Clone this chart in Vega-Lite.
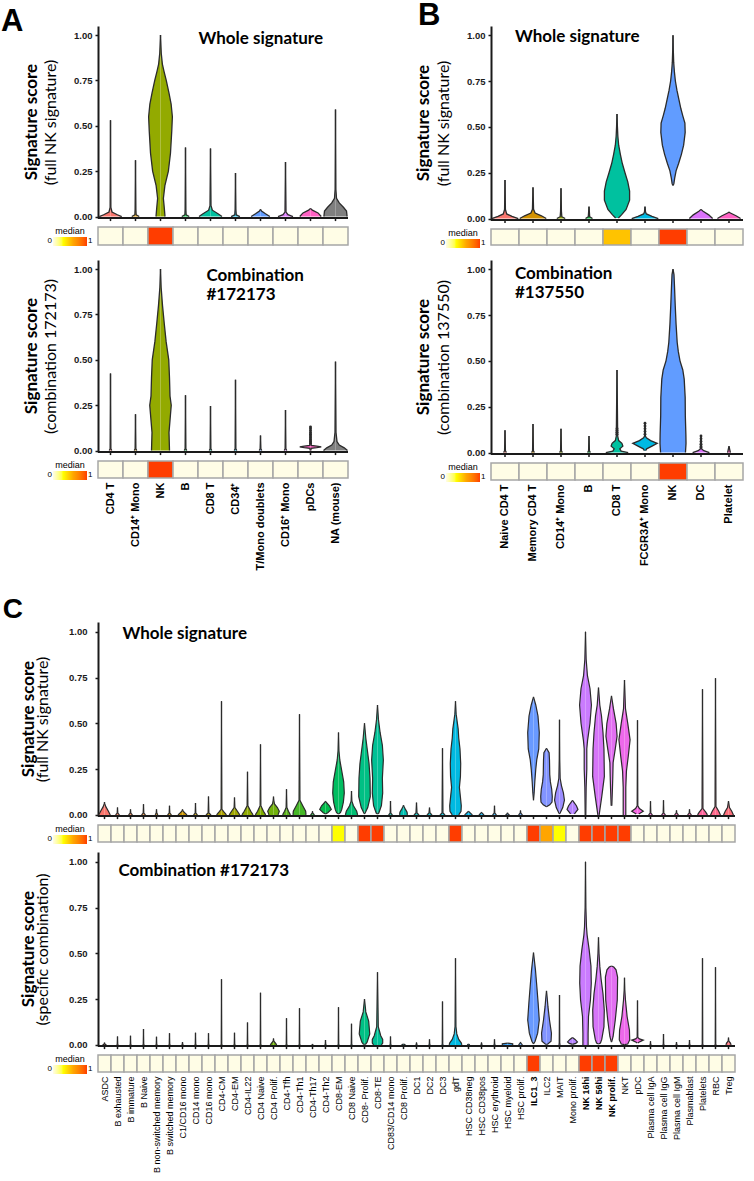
{
"$schema": "https://vega.github.io/schema/vega-lite/v6.json",
"background": "white",
"padding": {"left": 0, "top": 0, "right": 0, "bottom": 0},
"config": {"view": {"stroke": null}, "font": "Liberation Sans"},
"datasets": {
"sA": [{"c":"CD4 T","m1":0,"m2":0},{"c":"CD14⁺ Mono","m1":0,"m2":0},{"c":"NK","m1":1,"m2":1},{"c":"B","m1":0,"m2":0},{"c":"CD8 T","m1":0,"m2":0},{"c":"CD34⁺","m1":0,"m2":0},{"c":"T/Mono doublets","m1":0,"m2":0},{"c":"CD16⁺ Mono","m1":0,"m2":0},{"c":"pDCs","m1":0,"m2":0},{"c":"NA (mouse)","m1":0,"m2":0}],
"sB": [{"c":"Naive CD4 T","m1":0,"m2":0},{"c":"Memory CD4 T","m1":0,"m2":0},{"c":"CD14⁺ Mono","m1":0,"m2":0},{"c":"B","m1":0,"m2":0},{"c":"CD8 T","m1":0.5,"m2":0},{"c":"FCGR3A⁺ Mono","m1":0,"m2":0},{"c":"NK","m1":1,"m2":1},{"c":"DC","m1":0,"m2":0},{"c":"Platelet","m1":0,"m2":0}],
"catsC": [{"c":"ASDC","i":0,"m1":0,"m2":0},{"c":"B exhausted","i":1,"m1":0,"m2":0},{"c":"B immature","i":2,"m1":0,"m2":0},{"c":"B Naive","i":3,"m1":0,"m2":0},{"c":"B non-switched memory","i":4,"m1":0,"m2":0},{"c":"B switched memory","i":5,"m1":0,"m2":0},{"c":"C1/CD16 mono","i":6,"m1":0,"m2":0},{"c":"CD14 mono","i":7,"m1":0,"m2":0},{"c":"CD16 mono","i":8,"m1":0,"m2":0},{"c":"CD4-CM","i":9,"m1":0,"m2":0},{"c":"CD4-EM","i":10,"m1":0,"m2":0},{"c":"CD4-IL22","i":11,"m1":0,"m2":0},{"c":"CD4 Naive","i":12,"m1":0,"m2":0},{"c":"CD4 Prolif.","i":13,"m1":0,"m2":0},{"c":"CD4-Tfh","i":14,"m1":0,"m2":0},{"c":"CD4-Th1","i":15,"m1":0,"m2":0},{"c":"CD4-Th17","i":16,"m1":0,"m2":0},{"c":"CD4-Th2","i":17,"m1":0,"m2":0},{"c":"CD8-EM","i":18,"m1":0.3,"m2":0},{"c":"CD8 Naive","i":19,"m1":0,"m2":0},{"c":"CD8- Prolif.","i":20,"m1":1,"m2":0},{"c":"CD8-TE","i":21,"m1":1,"m2":0},{"c":"CD83/CD14 mono","i":22,"m1":0,"m2":0},{"c":"CD8 Prolif.","i":23,"m1":0,"m2":0},{"c":"DC1","i":24,"m1":0,"m2":0},{"c":"DC2","i":25,"m1":0,"m2":0},{"c":"DC3","i":26,"m1":0,"m2":0},{"c":"gdT","i":27,"m1":1,"m2":0},{"c":"HSC CD38neg","i":28,"m1":0,"m2":0},{"c":"HSC CD38pos","i":29,"m1":0,"m2":0},{"c":"HSC erythroid","i":30,"m1":0,"m2":0},{"c":"HSC myeloid","i":31,"m1":0,"m2":0},{"c":"HSC prolif.","i":32,"m1":0,"m2":0},{"c":"ILC1_3","i":33,"m1":1,"m2":1},{"c":"ILC2","i":34,"m1":0.6,"m2":0},{"c":"MAIT","i":35,"m1":0.3,"m2":0},{"c":"Mono prolif.","i":36,"m1":0,"m2":0},{"c":"NK 16hi","i":37,"m1":1,"m2":1},{"c":"NK 56hi","i":38,"m1":1,"m2":1},{"c":"NK prolif.","i":39,"m1":1,"m2":1},{"c":"NKT","i":40,"m1":1,"m2":0},{"c":"pDC","i":41,"m1":0,"m2":0},{"c":"Plasma cell IgA","i":42,"m1":0,"m2":0},{"c":"Plasma cell IgG","i":43,"m1":0,"m2":0},{"c":"Plasma cell IgM","i":44,"m1":0,"m2":0},{"c":"Plasmablast","i":45,"m1":0,"m2":0},{"c":"Platelets","i":46,"m1":0,"m2":0},{"c":"RBC","i":47,"m1":0,"m2":0},{"c":"Treg","i":48,"m1":0,"m2":0}],
"vA1": [
{"c":"CD4 T","y":0,"w":0.9},{"c":"CD4 T","y":0.01,"w":0.55},{"c":"CD4 T","y":0.025,"w":0.12},{"c":"CD4 T","y":0.05,"w":0.03},{"c":"CD4 T","y":0.53,"w":0},
{"c":"CD14⁺ Mono","y":0,"w":0.3},{"c":"CD14⁺ Mono","y":0.01,"w":0.05},{"c":"CD14⁺ Mono","y":0.04,"w":0.03},{"c":"CD14⁺ Mono","y":0.31,"w":0},
{"c":"NK","y":0,"w":0.36},{"c":"NK","y":0.05,"w":0.3},{"c":"NK","y":0.1,"w":0.23},{"c":"NK","y":0.17,"w":0.35},{"c":"NK","y":0.25,"w":0.63},{"c":"NK","y":0.35,"w":0.8},{"c":"NK","y":0.47,"w":0.9},{"c":"NK","y":0.55,"w":0.95},{"c":"NK","y":0.62,"w":0.85},{"c":"NK","y":0.68,"w":0.68},{"c":"NK","y":0.75,"w":0.46},{"c":"NK","y":0.8,"w":0.28},{"c":"NK","y":0.84,"w":0.15},{"c":"NK","y":0.9,"w":0.06},{"c":"NK","y":1,"w":0},
{"c":"B","y":0,"w":0.3},{"c":"B","y":0.01,"w":0.05},{"c":"B","y":0.04,"w":0.03},{"c":"B","y":0.38,"w":0},
{"c":"CD8 T","y":0,"w":0.92},{"c":"CD8 T","y":0.015,"w":0.6},{"c":"CD8 T","y":0.035,"w":0.15},{"c":"CD8 T","y":0.06,"w":0.04},{"c":"CD8 T","y":0.375,"w":0},
{"c":"CD34⁺","y":0,"w":0.35},{"c":"CD34⁺","y":0.01,"w":0.06},{"c":"CD34⁺","y":0.04,"w":0.03},{"c":"CD34⁺","y":0.24,"w":0},
{"c":"T/Mono doublets","y":0,"w":0.75},{"c":"T/Mono doublets","y":0.015,"w":0.4},{"c":"T/Mono doublets","y":0.03,"w":0.08},{"c":"T/Mono doublets","y":0.04,"w":0},
{"c":"CD16⁺ Mono","y":0,"w":0.6},{"c":"CD16⁺ Mono","y":0.01,"w":0.2},{"c":"CD16⁺ Mono","y":0.025,"w":0.04},{"c":"CD16⁺ Mono","y":0.3,"w":0},
{"c":"pDCs","y":0,"w":0.86},{"c":"pDCs","y":0.02,"w":0.6},{"c":"pDCs","y":0.035,"w":0.15},{"c":"pDCs","y":0.045,"w":0},
{"c":"NA (mouse)","y":0,"w":0.93},{"c":"NA (mouse)","y":0.03,"w":0.88},{"c":"NA (mouse)","y":0.05,"w":0.65},{"c":"NA (mouse)","y":0.075,"w":0.3},{"c":"NA (mouse)","y":0.1,"w":0.08},{"c":"NA (mouse)","y":0.15,"w":0.03},{"c":"NA (mouse)","y":0.59,"w":0},
{"c":"CD8 T","kind":"label","t":"Whole signature"},
{"c":"CD4 T","kind":"ytitle","t":"Signature score"}
],
"vA2": [
{"c":"CD4 T","y":0,"w":0.1},{"c":"CD4 T","y":0.01,"w":0.03},{"c":"CD4 T","y":0.425,"w":0},
{"c":"CD14⁺ Mono","y":0,"w":0.1},{"c":"CD14⁺ Mono","y":0.01,"w":0.03},{"c":"CD14⁺ Mono","y":0.2,"w":0},
{"c":"NK","y":0,"w":0.72},{"c":"NK","y":0.1,"w":0.68},{"c":"NK","y":0.2,"w":0.8},{"c":"NK","y":0.25,"w":0.86},{"c":"NK","y":0.3,"w":0.76},{"c":"NK","y":0.4,"w":0.72},{"c":"NK","y":0.5,"w":0.66},{"c":"NK","y":0.6,"w":0.45},{"c":"NK","y":0.7,"w":0.3},{"c":"NK","y":0.8,"w":0.16},{"c":"NK","y":0.9,"w":0.05},{"c":"NK","y":1,"w":0},
{"c":"B","y":0,"w":0.1},{"c":"B","y":0.01,"w":0.03},{"c":"B","y":0.305,"w":0},
{"c":"CD8 T","y":0,"w":0.1},{"c":"CD8 T","y":0.01,"w":0.03},{"c":"CD8 T","y":0.245,"w":0},
{"c":"CD34⁺","y":0,"w":0.1},{"c":"CD34⁺","y":0.01,"w":0.03},{"c":"CD34⁺","y":0.39,"w":0},
{"c":"T/Mono doublets","y":0,"w":0.1},{"c":"T/Mono doublets","y":0.01,"w":0.03},{"c":"T/Mono doublets","y":0.083,"w":0},
{"c":"CD16⁺ Mono","y":0,"w":0.1},{"c":"CD16⁺ Mono","y":0.01,"w":0.03},{"c":"CD16⁺ Mono","y":0.223,"w":0},
{"c":"pDCs","y":0,"w":0.03},{"c":"pDCs","y":0.012,"w":0.05},{"c":"pDCs","y":0.016,"w":0.5},{"c":"pDCs","y":0.02,"w":0.86},{"c":"pDCs","y":0.024,"w":0.5},{"c":"pDCs","y":0.028,"w":0.06},{"c":"pDCs","y":0.135,"w":0},
{"c":"NA (mouse)","y":0,"w":0.96},{"c":"NA (mouse)","y":0.015,"w":0.7},{"c":"NA (mouse)","y":0.03,"w":0.3},{"c":"NA (mouse)","y":0.05,"w":0.12},{"c":"NA (mouse)","y":0.1,"w":0.04},{"c":"NA (mouse)","y":0.49,"w":0},
{"c":"pDCs","kind":"dot","y":0.04},{"c":"pDCs","kind":"dot","y":0.05},{"c":"pDCs","kind":"dot","y":0.06},{"c":"pDCs","kind":"dot","y":0.07},{"c":"pDCs","kind":"dot","y":0.08},{"c":"pDCs","kind":"dot","y":0.09},{"c":"pDCs","kind":"dot","y":0.1},{"c":"pDCs","kind":"dot","y":0.11},{"c":"pDCs","kind":"dot","y":0.12},{"c":"pDCs","kind":"dot","y":0.13},
{"c":"CD8 T","kind":"label","t":["Combination","#172173"]},
{"c":"CD4 T","kind":"ytitle","t":"Signature score"}
],
"vB1": [
{"c":"Naive CD4 T","y":0,"w":0.95},{"c":"Naive CD4 T","y":0.012,"w":0.5},{"c":"Naive CD4 T","y":0.025,"w":0.12},{"c":"Naive CD4 T","y":0.05,"w":0.03},{"c":"Naive CD4 T","y":0.21,"w":0},
{"c":"Memory CD4 T","y":0,"w":0.95},{"c":"Memory CD4 T","y":0.015,"w":0.6},{"c":"Memory CD4 T","y":0.03,"w":0.15},{"c":"Memory CD4 T","y":0.05,"w":0.04},{"c":"Memory CD4 T","y":0.17,"w":0},
{"c":"CD14⁺ Mono","y":0,"w":0.3},{"c":"CD14⁺ Mono","y":0.01,"w":0.06},{"c":"CD14⁺ Mono","y":0.04,"w":0.03},{"c":"CD14⁺ Mono","y":0.165,"w":0},
{"c":"B","y":0,"w":0.25},{"c":"B","y":0.01,"w":0.05},{"c":"B","y":0.065,"w":0},
{"c":"CD8 T","y":0.003,"w":0.1},{"c":"CD8 T","y":0.02,"w":0.32},{"c":"CD8 T","y":0.05,"w":0.65},{"c":"CD8 T","y":0.1,"w":0.9},{"c":"CD8 T","y":0.15,"w":0.9},{"c":"CD8 T","y":0.2,"w":0.77},{"c":"CD8 T","y":0.25,"w":0.57},{"c":"CD8 T","y":0.3,"w":0.38},{"c":"CD8 T","y":0.35,"w":0.24},{"c":"CD8 T","y":0.4,"w":0.12},{"c":"CD8 T","y":0.45,"w":0.06},{"c":"CD8 T","y":0.5,"w":0.03},{"c":"CD8 T","y":0.57,"w":0},
{"c":"FCGR3A⁺ Mono","y":0,"w":0.95},{"c":"FCGR3A⁺ Mono","y":0.012,"w":0.5},{"c":"FCGR3A⁺ Mono","y":0.025,"w":0.1},{"c":"FCGR3A⁺ Mono","y":0.035,"w":0.04},{"c":"FCGR3A⁺ Mono","y":0.065,"w":0},
{"c":"NK","y":0.18,"w":0},{"c":"NK","y":0.19,"w":0.06},{"c":"NK","y":0.22,"w":0.12},{"c":"NK","y":0.26,"w":0.22},{"c":"NK","y":0.3,"w":0.4},{"c":"NK","y":0.35,"w":0.6},{"c":"NK","y":0.4,"w":0.76},{"c":"NK","y":0.47,"w":0.87},{"c":"NK","y":0.52,"w":0.85},{"c":"NK","y":0.56,"w":0.7},{"c":"NK","y":0.6,"w":0.56},{"c":"NK","y":0.65,"w":0.42},{"c":"NK","y":0.7,"w":0.28},{"c":"NK","y":0.75,"w":0.17},{"c":"NK","y":0.8,"w":0.1},{"c":"NK","y":0.85,"w":0.05},{"c":"NK","y":0.92,"w":0.02},{"c":"NK","y":1,"w":0},
{"c":"DC","y":0,"w":0.83},{"c":"DC","y":0.02,"w":0.55},{"c":"DC","y":0.04,"w":0.15},{"c":"DC","y":0.05,"w":0},
{"c":"Platelet","y":0,"w":0.83},{"c":"Platelet","y":0.015,"w":0.5},{"c":"Platelet","y":0.03,"w":0.1},{"c":"Platelet","y":0.035,"w":0},
{"c":"Naive CD4 T","kind":"label","t":"Whole signature"},
{"c":"Naive CD4 T","kind":"ytitle","t":"Signature score"}
],
"vB2": [
{"c":"Naive CD4 T","y":0,"w":0.1},{"c":"Naive CD4 T","y":0.01,"w":0.03},{"c":"Naive CD4 T","y":0.122,"w":0},
{"c":"Memory CD4 T","y":0,"w":0.1},{"c":"Memory CD4 T","y":0.01,"w":0.03},{"c":"Memory CD4 T","y":0.155,"w":0},
{"c":"CD14⁺ Mono","y":0,"w":0.1},{"c":"CD14⁺ Mono","y":0.01,"w":0.03},{"c":"CD14⁺ Mono","y":0.13,"w":0},
{"c":"B","y":0,"w":0.1},{"c":"B","y":0.01,"w":0.03},{"c":"B","y":0.09,"w":0},
{"c":"CD8 T","y":0,"w":0.8},{"c":"CD8 T","y":0.008,"w":0.3},{"c":"CD8 T","y":0.02,"w":0.2},{"c":"CD8 T","y":0.035,"w":0.42},{"c":"CD8 T","y":0.05,"w":0.35},{"c":"CD8 T","y":0.065,"w":0.12},{"c":"CD8 T","y":0.09,"w":0.05},{"c":"CD8 T","y":0.45,"w":0},
{"c":"FCGR3A⁺ Mono","y":0.01,"w":0.04},{"c":"FCGR3A⁺ Mono","y":0.02,"w":0.12},{"c":"FCGR3A⁺ Mono","y":0.035,"w":0.5},{"c":"FCGR3A⁺ Mono","y":0.05,"w":0.87},{"c":"FCGR3A⁺ Mono","y":0.065,"w":0.4},{"c":"FCGR3A⁺ Mono","y":0.08,"w":0.1},{"c":"FCGR3A⁺ Mono","y":0.09,"w":0.03},{"c":"FCGR3A⁺ Mono","y":0.165,"w":0},
{"c":"NK","y":0,"w":0.89},{"c":"NK","y":0.05,"w":0.93},{"c":"NK","y":0.1,"w":0.92},{"c":"NK","y":0.2,"w":0.88},{"c":"NK","y":0.3,"w":0.87},{"c":"NK","y":0.4,"w":0.8},{"c":"NK","y":0.45,"w":0.7},{"c":"NK","y":0.5,"w":0.5},{"c":"NK","y":0.55,"w":0.38},{"c":"NK","y":0.6,"w":0.3},{"c":"NK","y":0.7,"w":0.22},{"c":"NK","y":0.8,"w":0.16},{"c":"NK","y":0.9,"w":0.11},{"c":"NK","y":0.97,"w":0.07},{"c":"NK","y":1,"w":0},
{"c":"DC","y":0,"w":0.6},{"c":"DC","y":0.01,"w":0.2},{"c":"DC","y":0.02,"w":0.05},{"c":"DC","y":0.095,"w":0},
{"c":"Platelet","y":0,"w":0.1},{"c":"Platelet","y":0.035,"w":0},
{"c":"CD8 T","kind":"dot","y":0.1},{"c":"CD8 T","kind":"dot","y":0.11},{"c":"CD8 T","kind":"dot","y":0.12},{"c":"CD8 T","kind":"dot","y":0.13},{"c":"FCGR3A⁺ Mono","kind":"dot","y":0.1},{"c":"FCGR3A⁺ Mono","kind":"dot","y":0.115},{"c":"FCGR3A⁺ Mono","kind":"dot","y":0.13},{"c":"FCGR3A⁺ Mono","kind":"dot","y":0.145},{"c":"FCGR3A⁺ Mono","kind":"dot","y":0.16},{"c":"DC","kind":"dot","y":0.03},{"c":"DC","kind":"dot","y":0.045},{"c":"DC","kind":"dot","y":0.06},{"c":"DC","kind":"dot","y":0.075},{"c":"DC","kind":"dot","y":0.09},
{"c":"Naive CD4 T","kind":"label","t":["Combination","#137550"]},
{"c":"Naive CD4 T","kind":"ytitle","t":"Signature score"}
],
"vC1": [
{"c":"ASDC","y":0,"w":0.89},{"c":"ASDC","y":0.02,"w":0.6},{"c":"ASDC","y":0.045,"w":0.2},{"c":"ASDC","y":0.06,"w":0.05},{"c":"ASDC","y":0.07,"w":0},
{"c":"B exhausted","y":0,"w":0.3},{"c":"B exhausted","y":0.01,"w":0.05},{"c":"B exhausted","y":0.04,"w":0},
{"c":"B immature","y":0,"w":0.3},{"c":"B immature","y":0.01,"w":0.05},{"c":"B immature","y":0.03,"w":0},
{"c":"B Naive","y":0,"w":0.3},{"c":"B Naive","y":0.01,"w":0.05},{"c":"B Naive","y":0.058,"w":0},
{"c":"B non-switched memory","y":0,"w":0.2},{"c":"B non-switched memory","y":0.01,"w":0.05},{"c":"B non-switched memory","y":0.03,"w":0},
{"c":"B switched memory","y":0,"w":0.3},{"c":"B switched memory","y":0.01,"w":0.05},{"c":"B switched memory","y":0.05,"w":0},
{"c":"C1/CD16 mono","y":0,"w":0.7},{"c":"C1/CD16 mono","y":0.01,"w":0.4},{"c":"C1/CD16 mono","y":0.02,"w":0.1},{"c":"C1/CD16 mono","y":0.03,"w":0},
{"c":"CD14 mono","y":0,"w":0.3},{"c":"CD14 mono","y":0.01,"w":0.05},{"c":"CD14 mono","y":0.065,"w":0},
{"c":"CD16 mono","y":0,"w":0.4},{"c":"CD16 mono","y":0.01,"w":0.06},{"c":"CD16 mono","y":0.1,"w":0},
{"c":"CD4-CM","y":0,"w":0.76},{"c":"CD4-CM","y":0.015,"w":0.4},{"c":"CD4-CM","y":0.03,"w":0.06},{"c":"CD4-CM","y":0.62,"w":0},
{"c":"CD4-EM","y":0,"w":0.81},{"c":"CD4-EM","y":0.02,"w":0.45},{"c":"CD4-EM","y":0.04,"w":0.06},{"c":"CD4-EM","y":0.095,"w":0},
{"c":"CD4-IL22","y":0,"w":0.86},{"c":"CD4-IL22","y":0.02,"w":0.5},{"c":"CD4-IL22","y":0.05,"w":0.06},{"c":"CD4-IL22","y":0.235,"w":0},
{"c":"CD4 Naive","y":0,"w":0.8},{"c":"CD4 Naive","y":0.02,"w":0.45},{"c":"CD4 Naive","y":0.05,"w":0.06},{"c":"CD4 Naive","y":0.385,"w":0},
{"c":"CD4 Prolif.","y":0,"w":0.7},{"c":"CD4 Prolif.","y":0.02,"w":0.89},{"c":"CD4 Prolif.","y":0.04,"w":0.6},{"c":"CD4 Prolif.","y":0.06,"w":0.15},{"c":"CD4 Prolif.","y":0.08,"w":0.05},{"c":"CD4 Prolif.","y":0.1,"w":0},
{"c":"CD4-Tfh","y":0,"w":0.6},{"c":"CD4-Tfh","y":0.02,"w":0.3},{"c":"CD4-Tfh","y":0.04,"w":0.06},{"c":"CD4-Tfh","y":0.14,"w":0},
{"c":"CD4-Th1","y":0,"w":1},{"c":"CD4-Th1","y":0.02,"w":0.95},{"c":"CD4-Th1","y":0.05,"w":0.5},{"c":"CD4-Th1","y":0.08,"w":0.07},{"c":"CD4-Th1","y":0.55,"w":0},
{"c":"CD4-Th17","y":0,"w":0.3},{"c":"CD4-Th17","y":0.01,"w":0.05},{"c":"CD4-Th17","y":0.02,"w":0},
{"c":"CD4-Th2","y":0.005,"w":0},{"c":"CD4-Th2","y":0.012,"w":0.35},{"c":"CD4-Th2","y":0.03,"w":0.89},{"c":"CD4-Th2","y":0.05,"w":0.6},{"c":"CD4-Th2","y":0.07,"w":0.1},{"c":"CD4-Th2","y":0.075,"w":0},
{"c":"CD8-EM","y":0.005,"w":0},{"c":"CD8-EM","y":0.012,"w":0.3},{"c":"CD8-EM","y":0.03,"w":0.5},{"c":"CD8-EM","y":0.07,"w":0.75},{"c":"CD8-EM","y":0.12,"w":0.89},{"c":"CD8-EM","y":0.18,"w":0.8},{"c":"CD8-EM","y":0.24,"w":0.5},{"c":"CD8-EM","y":0.3,"w":0.2},{"c":"CD8-EM","y":0.35,"w":0.07},{"c":"CD8-EM","y":0.45,"w":0},
{"c":"CD8 Naive","y":0,"w":0.94},{"c":"CD8 Naive","y":0.02,"w":0.8},{"c":"CD8 Naive","y":0.05,"w":0.3},{"c":"CD8 Naive","y":0.075,"w":0.06},{"c":"CD8 Naive","y":0.13,"w":0},
{"c":"CD8- Prolif.","y":0.005,"w":0},{"c":"CD8- Prolif.","y":0.01,"w":0.1},{"c":"CD8- Prolif.","y":0.04,"w":0.5},{"c":"CD8- Prolif.","y":0.1,"w":0.89},{"c":"CD8- Prolif.","y":0.2,"w":0.85},{"c":"CD8- Prolif.","y":0.28,"w":0.7},{"c":"CD8- Prolif.","y":0.35,"w":0.45},{"c":"CD8- Prolif.","y":0.42,"w":0.2},{"c":"CD8- Prolif.","y":0.5,"w":0},
{"c":"CD8-TE","y":0.005,"w":0},{"c":"CD8-TE","y":0.01,"w":0.2},{"c":"CD8-TE","y":0.05,"w":0.6},{"c":"CD8-TE","y":0.12,"w":0.8},{"c":"CD8-TE","y":0.2,"w":0.75},{"c":"CD8-TE","y":0.3,"w":0.9},{"c":"CD8-TE","y":0.38,"w":0.75},{"c":"CD8-TE","y":0.45,"w":0.4},{"c":"CD8-TE","y":0.52,"w":0.15},{"c":"CD8-TE","y":0.6,"w":0},
{"c":"CD83/CD14 mono","y":0,"w":0.3},{"c":"CD83/CD14 mono","y":0.01,"w":0.05},{"c":"CD83/CD14 mono","y":0.076,"w":0},
{"c":"CD8 Prolif.","y":0,"w":0.6},{"c":"CD8 Prolif.","y":0.015,"w":0.55},{"c":"CD8 Prolif.","y":0.03,"w":0.3},{"c":"CD8 Prolif.","y":0.045,"w":0.1},{"c":"CD8 Prolif.","y":0.053,"w":0},
{"c":"DC1","y":0,"w":0.4},{"c":"DC1","y":0.01,"w":0.08},{"c":"DC1","y":0.067,"w":0},
{"c":"DC2","y":0,"w":0.4},{"c":"DC2","y":0.01,"w":0.08},{"c":"DC2","y":0.04,"w":0},
{"c":"DC3","y":0,"w":0.4},{"c":"DC3","y":0.01,"w":0.07},{"c":"DC3","y":0.364,"w":0},
{"c":"gdT","y":0,"w":0.5},{"c":"gdT","y":0.02,"w":0.85},{"c":"gdT","y":0.05,"w":0.89},{"c":"gdT","y":0.1,"w":0.75},{"c":"gdT","y":0.15,"w":0.6},{"c":"gdT","y":0.21,"w":0.76},{"c":"gdT","y":0.28,"w":0.8},{"c":"gdT","y":0.36,"w":0.69},{"c":"gdT","y":0.42,"w":0.5},{"c":"gdT","y":0.47,"w":0.41},{"c":"gdT","y":0.55,"w":0.1},{"c":"gdT","y":0.62,"w":0},
{"c":"HSC CD38neg","y":0,"w":0.6},{"c":"HSC CD38neg","y":0.01,"w":0.3},{"c":"HSC CD38neg","y":0.02,"w":0},
{"c":"HSC CD38pos","y":0,"w":0.4},{"c":"HSC CD38pos","y":0.01,"w":0.1},{"c":"HSC CD38pos","y":0.015,"w":0},
{"c":"HSC erythroid","y":0,"w":0.3},{"c":"HSC erythroid","y":0.01,"w":0.05},{"c":"HSC erythroid","y":0.05,"w":0},
{"c":"HSC myeloid","y":0,"w":0.3},{"c":"HSC myeloid","y":0.005,"w":0.1},{"c":"HSC myeloid","y":0.012,"w":0},
{"c":"HSC prolif.","y":0,"w":0.3},{"c":"HSC prolif.","y":0.01,"w":0.05},{"c":"HSC prolif.","y":0.024,"w":0},
{"c":"ILC1_3","y":0.08,"w":0},{"c":"ILC1_3","y":0.12,"w":0.1},{"c":"ILC1_3","y":0.18,"w":0.2},{"c":"ILC1_3","y":0.25,"w":0.35},{"c":"ILC1_3","y":0.3,"w":0.5},{"c":"ILC1_3","y":0.36,"w":0.81},{"c":"ILC1_3","y":0.45,"w":0.89},{"c":"ILC1_3","y":0.54,"w":0.69},{"c":"ILC1_3","y":0.6,"w":0.35},{"c":"ILC1_3","y":0.644,"w":0},
{"c":"ILC2","y":0.045,"w":0},{"c":"ILC2","y":0.055,"w":0.5},{"c":"ILC2","y":0.07,"w":0.85},{"c":"ILC2","y":0.1,"w":0.89},{"c":"ILC2","y":0.14,"w":0.8},{"c":"ILC2","y":0.18,"w":0.6},{"c":"ILC2","y":0.22,"w":0.5},{"c":"ILC2","y":0.3,"w":0.46},{"c":"ILC2","y":0.34,"w":0.4},{"c":"ILC2","y":0.364,"w":0},
{"c":"MAIT","y":0.005,"w":0},{"c":"MAIT","y":0.01,"w":0.1},{"c":"MAIT","y":0.04,"w":0.5},{"c":"MAIT","y":0.08,"w":0.76},{"c":"MAIT","y":0.12,"w":0.6},{"c":"MAIT","y":0.16,"w":0.3},{"c":"MAIT","y":0.2,"w":0.1},{"c":"MAIT","y":0.3,"w":0.04},{"c":"MAIT","y":0.52,"w":0},
{"c":"Mono prolif.","y":0.005,"w":0.3},{"c":"Mono prolif.","y":0.03,"w":0.84},{"c":"Mono prolif.","y":0.05,"w":0.6},{"c":"Mono prolif.","y":0.07,"w":0.2},{"c":"Mono prolif.","y":0.08,"w":0},
{"c":"NK 16hi","y":0,"w":0.05},{"c":"NK 16hi","y":0.15,"w":0.1},{"c":"NK 16hi","y":0.25,"w":0.2},{"c":"NK 16hi","y":0.36,"w":0.2},{"c":"NK 16hi","y":0.41,"w":0.33},{"c":"NK 16hi","y":0.5,"w":0.69},{"c":"NK 16hi","y":0.6,"w":0.91},{"c":"NK 16hi","y":0.69,"w":0.69},{"c":"NK 16hi","y":0.76,"w":0.3},{"c":"NK 16hi","y":0.85,"w":0.1},{"c":"NK 16hi","y":1,"w":0},
{"c":"NK 56hi","y":0,"w":0.1},{"c":"NK 56hi","y":0.1,"w":0.5},{"c":"NK 56hi","y":0.21,"w":0.9},{"c":"NK 56hi","y":0.36,"w":0.84},{"c":"NK 56hi","y":0.45,"w":0.69},{"c":"NK 56hi","y":0.54,"w":0.46},{"c":"NK 56hi","y":0.6,"w":0.2},{"c":"NK 56hi","y":0.695,"w":0},
{"c":"NK prolif.","y":0.05,"w":0.05},{"c":"NK prolif.","y":0.15,"w":0.15},{"c":"NK prolif.","y":0.21,"w":0.2},{"c":"NK prolif.","y":0.285,"w":0.25},{"c":"NK prolif.","y":0.36,"w":0.58},{"c":"NK prolif.","y":0.43,"w":0.86},{"c":"NK prolif.","y":0.5,"w":0.71},{"c":"NK prolif.","y":0.58,"w":0.3},{"c":"NK prolif.","y":0.65,"w":0},
{"c":"NKT","y":0,"w":0.2},{"c":"NKT","y":0.05,"w":0.2},{"c":"NKT","y":0.15,"w":0.2},{"c":"NKT","y":0.24,"w":0.3},{"c":"NKT","y":0.32,"w":0.58},{"c":"NKT","y":0.41,"w":0.86},{"c":"NKT","y":0.5,"w":0.5},{"c":"NKT","y":0.58,"w":0.15},{"c":"NKT","y":0.736,"w":0},
{"c":"pDC","y":0.005,"w":0.2},{"c":"pDC","y":0.02,"w":0.89},{"c":"pDC","y":0.035,"w":0.3},{"c":"pDC","y":0.05,"w":0.05},{"c":"pDC","y":0.517,"w":0},
{"c":"Plasma cell IgA","y":0,"w":0.3},{"c":"Plasma cell IgA","y":0.01,"w":0.05},{"c":"Plasma cell IgA","y":0.075,"w":0},
{"c":"Plasma cell IgG","y":0,"w":0.3},{"c":"Plasma cell IgG","y":0.01,"w":0.05},{"c":"Plasma cell IgG","y":0.08,"w":0},
{"c":"Plasma cell IgM","y":0,"w":0.3},{"c":"Plasma cell IgM","y":0.01,"w":0.05},{"c":"Plasma cell IgM","y":0.025,"w":0},
{"c":"Plasmablast","y":0,"w":0.3},{"c":"Plasmablast","y":0.01,"w":0.05},{"c":"Plasmablast","y":0.03,"w":0},
{"c":"Platelets","y":0,"w":0.76},{"c":"Platelets","y":0.015,"w":0.5},{"c":"Platelets","y":0.035,"w":0.07},{"c":"Platelets","y":0.686,"w":0},
{"c":"RBC","y":0,"w":0.76},{"c":"RBC","y":0.02,"w":0.5},{"c":"RBC","y":0.045,"w":0.07},{"c":"RBC","y":0.746,"w":0},
{"c":"Treg","y":0,"w":0.76},{"c":"Treg","y":0.02,"w":0.5},{"c":"Treg","y":0.04,"w":0.15},{"c":"Treg","y":0.075,"w":0},
{"c":"B exhausted","kind":"label","t":"Whole signature"},
{"c":"ASDC","kind":"ytitle","t":"Signature score"}
],
"vC2": [
{"c":"ASDC","y":0,"w":0.3},{"c":"ASDC","y":0.005,"w":0.05},{"c":"ASDC","y":0.013,"w":0},
{"c":"B exhausted","y":0,"w":0.1},{"c":"B exhausted","y":0.005,"w":0.04},{"c":"B exhausted","y":0.046,"w":0},
{"c":"B immature","y":0,"w":0.1},{"c":"B immature","y":0.005,"w":0.04},{"c":"B immature","y":0.05,"w":0},
{"c":"B Naive","y":0,"w":0.1},{"c":"B Naive","y":0.005,"w":0.04},{"c":"B Naive","y":0.087,"w":0},
{"c":"B non-switched memory","y":0,"w":0.1},{"c":"B non-switched memory","y":0.005,"w":0.04},{"c":"B non-switched memory","y":0.044,"w":0},
{"c":"B switched memory","y":0,"w":0.1},{"c":"B switched memory","y":0.005,"w":0.04},{"c":"B switched memory","y":0.063,"w":0},
{"c":"C1/CD16 mono","y":0,"w":0.1},{"c":"C1/CD16 mono","y":0.005,"w":0.04},{"c":"C1/CD16 mono","y":0.015,"w":0},
{"c":"CD14 mono","y":0,"w":0.1},{"c":"CD14 mono","y":0.005,"w":0.04},{"c":"CD14 mono","y":0.066,"w":0},
{"c":"CD16 mono","y":0,"w":0.1},{"c":"CD16 mono","y":0.005,"w":0.04},{"c":"CD16 mono","y":0.063,"w":0},
{"c":"CD4-CM","y":0,"w":0.1},{"c":"CD4-CM","y":0.005,"w":0.04},{"c":"CD4-CM","y":0.358,"w":0},
{"c":"CD4-EM","y":0,"w":0.1},{"c":"CD4-EM","y":0.005,"w":0.04},{"c":"CD4-EM","y":0.066,"w":0},
{"c":"CD4-IL22","y":0,"w":0.1},{"c":"CD4-IL22","y":0.005,"w":0.04},{"c":"CD4-IL22","y":0.122,"w":0},
{"c":"CD4 Naive","y":0,"w":0.1},{"c":"CD4 Naive","y":0.005,"w":0.04},{"c":"CD4 Naive","y":0.285,"w":0},
{"c":"CD4 Prolif.","y":0,"w":0.5},{"c":"CD4 Prolif.","y":0.01,"w":0.3},{"c":"CD4 Prolif.","y":0.02,"w":0.06},{"c":"CD4 Prolif.","y":0.035,"w":0},
{"c":"CD4-Tfh","y":0,"w":0.1},{"c":"CD4-Tfh","y":0.005,"w":0.04},{"c":"CD4-Tfh","y":0.146,"w":0},
{"c":"CD4-Th1","y":0,"w":0.1},{"c":"CD4-Th1","y":0.005,"w":0.04},{"c":"CD4-Th1","y":0.2,"w":0},
{"c":"CD4-Th17","y":0,"w":0.1},{"c":"CD4-Th17","y":0.005,"w":0},
{"c":"CD4-Th2","y":0,"w":0.1},{"c":"CD4-Th2","y":0.005,"w":0.04},{"c":"CD4-Th2","y":0.027,"w":0},
{"c":"CD8-EM","y":0,"w":0.1},{"c":"CD8-EM","y":0.005,"w":0.04},{"c":"CD8-EM","y":0.205,"w":0},
{"c":"CD8 Naive","y":0,"w":0.1},{"c":"CD8 Naive","y":0.005,"w":0.04},{"c":"CD8 Naive","y":0.115,"w":0},
{"c":"CD8- Prolif.","y":0.002,"w":0},{"c":"CD8- Prolif.","y":0.005,"w":0.2},{"c":"CD8- Prolif.","y":0.015,"w":0.4},{"c":"CD8- Prolif.","y":0.06,"w":0.81},{"c":"CD8- Prolif.","y":0.13,"w":0.64},{"c":"CD8- Prolif.","y":0.18,"w":0.2},{"c":"CD8- Prolif.","y":0.25,"w":0},
{"c":"CD8-TE","y":0,"w":0.6},{"c":"CD8-TE","y":0.01,"w":0.8},{"c":"CD8-TE","y":0.03,"w":0.8},{"c":"CD8-TE","y":0.05,"w":0.5},{"c":"CD8-TE","y":0.1,"w":0.12},{"c":"CD8-TE","y":0.396,"w":0},
{"c":"CD83/CD14 mono","y":0,"w":0.1},{"c":"CD83/CD14 mono","y":0.005,"w":0.04},{"c":"CD83/CD14 mono","y":0.046,"w":0},
{"c":"CD8 Prolif.","y":0,"w":0.3},{"c":"CD8 Prolif.","y":0.005,"w":0},
{"c":"DC1","y":0,"w":0.1},{"c":"DC1","y":0.005,"w":0.04},{"c":"DC1","y":0.013,"w":0},
{"c":"DC2","y":0,"w":0.1},{"c":"DC2","y":0.005,"w":0.04},{"c":"DC2","y":0.03,"w":0},
{"c":"DC3","y":0,"w":0.1},{"c":"DC3","y":0.005,"w":0.04},{"c":"DC3","y":0.237,"w":0},
{"c":"gdT","y":0,"w":0.97},{"c":"gdT","y":0.01,"w":0.9},{"c":"gdT","y":0.03,"w":0.5},{"c":"gdT","y":0.06,"w":0.2},{"c":"gdT","y":0.1,"w":0.07},{"c":"gdT","y":0.473,"w":0},
{"c":"HSC CD38neg","y":0,"w":0.2},{"c":"HSC CD38neg","y":0.005,"w":0},
{"c":"HSC CD38pos","y":0,"w":0.1},{"c":"HSC CD38pos","y":0.005,"w":0.04},{"c":"HSC CD38pos","y":0.013,"w":0},
{"c":"HSC erythroid","y":0,"w":0.1},{"c":"HSC erythroid","y":0.005,"w":0.04},{"c":"HSC erythroid","y":0.03,"w":0},
{"c":"HSC myeloid","y":0,"w":0.8},{"c":"HSC myeloid","y":0.006,"w":0.8},{"c":"HSC myeloid","y":0.01,"w":0},
{"c":"HSC prolif.","y":0,"w":0.3},{"c":"HSC prolif.","y":0.01,"w":0.05},{"c":"HSC prolif.","y":0.016,"w":0},
{"c":"ILC1_3","y":0.005,"w":0},{"c":"ILC1_3","y":0.01,"w":0.08},{"c":"ILC1_3","y":0.02,"w":0.25},{"c":"ILC1_3","y":0.064,"w":0.64},{"c":"ILC1_3","y":0.136,"w":0.89},{"c":"ILC1_3","y":0.23,"w":0.71},{"c":"ILC1_3","y":0.32,"w":0.51},{"c":"ILC1_3","y":0.41,"w":0.3},{"c":"ILC1_3","y":0.504,"w":0},
{"c":"ILC2","y":0.002,"w":0},{"c":"ILC2","y":0.005,"w":0.2},{"c":"ILC2","y":0.02,"w":0.7},{"c":"ILC2","y":0.064,"w":0.76},{"c":"ILC2","y":0.136,"w":0.46},{"c":"ILC2","y":0.21,"w":0.22},{"c":"ILC2","y":0.26,"w":0.1},{"c":"ILC2","y":0.295,"w":0},
{"c":"MAIT","y":0,"w":0.1},{"c":"MAIT","y":0.01,"w":0.04},{"c":"MAIT","y":0.273,"w":0},
{"c":"Mono prolif.","y":0.003,"w":0},{"c":"Mono prolif.","y":0.008,"w":0.5},{"c":"Mono prolif.","y":0.016,"w":0.76},{"c":"Mono prolif.","y":0.03,"w":0.4},{"c":"Mono prolif.","y":0.04,"w":0},
{"c":"NK 16hi","y":0,"w":0.4},{"c":"NK 16hi","y":0.064,"w":0.4},{"c":"NK 16hi","y":0.155,"w":0.46},{"c":"NK 16hi","y":0.245,"w":0.76},{"c":"NK 16hi","y":0.336,"w":0.89},{"c":"NK 16hi","y":0.43,"w":0.84},{"c":"NK 16hi","y":0.52,"w":0.56},{"c":"NK 16hi","y":0.6,"w":0.25},{"c":"NK 16hi","y":0.645,"w":0.15},{"c":"NK 16hi","y":0.75,"w":0.06},{"c":"NK 16hi","y":1,"w":0},
{"c":"NK 56hi","y":0.005,"w":0},{"c":"NK 56hi","y":0.01,"w":0.3},{"c":"NK 56hi","y":0.03,"w":0.5},{"c":"NK 56hi","y":0.1,"w":0.84},{"c":"NK 56hi","y":0.19,"w":0.89},{"c":"NK 56hi","y":0.28,"w":0.69},{"c":"NK 56hi","y":0.36,"w":0.4},{"c":"NK 56hi","y":0.43,"w":0.2},{"c":"NK 56hi","y":0.5,"w":0.08},{"c":"NK 56hi","y":0.587,"w":0},
{"c":"NK prolif.","y":0.015,"w":0},{"c":"NK prolif.","y":0.02,"w":0.05},{"c":"NK prolif.","y":0.046,"w":0.25},{"c":"NK prolif.","y":0.136,"w":0.58},{"c":"NK prolif.","y":0.245,"w":0.89},{"c":"NK prolif.","y":0.37,"w":0.94},{"c":"NK prolif.","y":0.41,"w":0.7},{"c":"NK prolif.","y":0.425,"w":0.35},{"c":"NK prolif.","y":0.431,"w":0},
{"c":"NKT","y":0.002,"w":0},{"c":"NKT","y":0.005,"w":0.5},{"c":"NKT","y":0.027,"w":0.8},{"c":"NKT","y":0.08,"w":0.76},{"c":"NKT","y":0.155,"w":0.4},{"c":"NKT","y":0.245,"w":0.15},{"c":"NKT","y":0.3,"w":0.05},{"c":"NKT","y":0.367,"w":0},
{"c":"pDC","y":0.01,"w":0.04},{"c":"pDC","y":0.018,"w":0.4},{"c":"pDC","y":0.026,"w":0.89},{"c":"pDC","y":0.033,"w":0.3},{"c":"pDC","y":0.04,"w":0.05},{"c":"pDC","y":0.242,"w":0},
{"c":"Plasma cell IgA","y":0,"w":0.1},{"c":"Plasma cell IgA","y":0.005,"w":0.04},{"c":"Plasma cell IgA","y":0.02,"w":0},
{"c":"Plasma cell IgG","y":0,"w":0.1},{"c":"Plasma cell IgG","y":0.005,"w":0.04},{"c":"Plasma cell IgG","y":0.06,"w":0},
{"c":"Plasma cell IgM","y":0,"w":0.1},{"c":"Plasma cell IgM","y":0.005,"w":0.04},{"c":"Plasma cell IgM","y":0.016,"w":0},
{"c":"Plasmablast","y":0,"w":0.1},{"c":"Plasmablast","y":0.005,"w":0.04},{"c":"Plasmablast","y":0.027,"w":0},
{"c":"Platelets","y":0,"w":0.1},{"c":"Platelets","y":0.005,"w":0.04},{"c":"Platelets","y":0.473,"w":0},
{"c":"RBC","y":0,"w":0.1},{"c":"RBC","y":0.005,"w":0.04},{"c":"RBC","y":0.424,"w":0},
{"c":"Treg","y":0,"w":0.4},{"c":"Treg","y":0.01,"w":0.3},{"c":"Treg","y":0.02,"w":0.06},{"c":"Treg","y":0.04,"w":0},
{"c":"B exhausted","kind":"label","t":"Combination #172173"},
{"c":"ASDC","kind":"ytitle","t":"Signature score"}
]
},
"vconcat": [
{
"hconcat": [
{
"title": {"text": "A", "anchor": "start", "frame": "bounds", "font": "Liberation Sans", "fontSize": 31, "fontWeight": "bold", "color": "black", "dx": -22, "offset": -12},
"vconcat": [
{"vconcat": [
{"data": {"name": "vA1"},
"facet": {"column": {"field": "c", "type": "nominal", "sort": ["CD4 T","CD14⁺ Mono","NK","B","CD8 T","CD34⁺","T/Mono doublets","CD16⁺ Mono","pDCs","NA (mouse)"], "header": null}},
"spacing": 0, "bounds": "flush", "resolve": {"scale": {"x": "independent"}},
"spec": {"width": 25, "height": 192,
"layer": [
{"transform": [{"filter": {"field": "w", "valid": true}}], "mark": {"type": "area", "orient": "horizontal", "opacity": 1},
"encoding": {"x": {"field": "w", "type": "quantitative", "stack": null, "impute": null, "scale": {"domain": [-1, 1], "nice": false, "zero": false}, "axis": null},
"y": {"field": "y", "type": "quantitative", "scale": {"domain": [-0.008, 1.05], "nice": false, "zero": false}, "axis": {"title": "(full NK signature)", "titleFont": "Lato", "titleFontSize": 16, "titleFontWeight": "normal", "titleColor": "black", "titlePadding": 15, "values": [0,0.25,0.5,0.75,1], "format": ".2f", "labelFont": "Liberation Sans", "labelFontSize": 9.5, "labelFontWeight": "bold", "labelColor": "#1a1a1a", "tickSize": 3, "tickWidth": 1.5, "tickColor": "#1a1a1a", "domainColor": "#1a1a1a", "domainWidth": 2, "grid": false, "zindex": 1, "labelPadding": 3}},
"color": {"field": "c", "type": "nominal", "scale": {"domain": ["CD4 T","CD14⁺ Mono","NK","B","CD8 T","CD34⁺","T/Mono doublets","CD16⁺ Mono","pDCs","NA (mouse)"], "range": ["#F8766D","#D39200","#93AA00","#00BA38","#00C19F","#00B9E3","#619CFF","#DB72FB","#FF61C3","#7F7F7F"]}, "legend": null}}},
{"transform": [{"filter": {"field": "w", "valid": true}}], "mark": {"type": "area", "orient": "horizontal", "opacity": 1},
"encoding": {"x": {"field": "w", "type": "quantitative", "stack": null, "impute": null, "scale": {"domain": [-1, 1], "nice": false, "zero": false, "reverse": true}, "axis": null},
"y": {"field": "y", "type": "quantitative"}, "color": {"field": "c", "type": "nominal", "legend": null}}},
{"transform": [{"filter": {"field": "w", "valid": true}}], "mark": {"type": "line", "color": "#2b2b2b", "strokeWidth": 1.3},
"encoding": {"x": {"field": "w", "type": "quantitative", "scale": {"domain": [-1, 1], "nice": false, "zero": false}, "axis": null}, "y": {"field": "y", "type": "quantitative"}, "order": {"field": "y", "type": "quantitative"}}},
{"transform": [{"filter": {"field": "w", "valid": true}}], "mark": {"type": "line", "color": "#2b2b2b", "strokeWidth": 1.3},
"encoding": {"x": {"field": "w", "type": "quantitative", "scale": {"domain": [-1, 1], "nice": false, "zero": false, "reverse": true}, "axis": null}, "y": {"field": "y", "type": "quantitative"}, "order": {"field": "y", "type": "quantitative"}}},
{"transform": [{"aggregate": [{"op": "count", "as": "n"}]}], "mark": {"type": "rule", "color": "#1a1a1a", "strokeWidth": 2}, "encoding": {"y": {"datum": -0.008}}},
{"transform": [{"aggregate": [{"op": "count", "as": "n"}]}], "mark": {"type": "rule", "color": "#1a1a1a", "strokeWidth": 1.5}, "encoding": {"x": {"datum": 0, "type": "quantitative", "scale": {"domain": [-1, 1]}, "axis": null}, "y": {"datum": -0.008}, "y2": {"datum": -0.025}}},
{"transform": [{"filter": {"field": "kind", "equal": "label"}}], "mark": {"type": "text", "font": "Lato", "fontSize": 17, "fontWeight": "bold", "align": "left", "baseline": "middle", "dx": -12, "color": "black"},
"encoding": {"y": {"datum": 0.98}, "text": {"field": "t"}}},
{"transform": [{"filter": {"field": "kind", "equal": "ytitle"}}], "mark": {"type": "text", "font": "Lato", "fontSize": 17, "fontWeight": "bold", "align": "center", "baseline": "middle", "angle": 270, "dy": -78.5, "color": "black"},
"encoding": {"y": {"datum": 0.521}, "text": {"field": "t"}}}
],
"resolve": {"scale": {"x": "independent"}}}},
{"width": 250, "height": 18, "data": {"name": "sA"}, "mark": {"type": "rect", "stroke": "#A6A6A6", "strokeWidth": 1.5},
"encoding": {"x": {"field": "c", "type": "nominal", "scale": {"type": "band", "paddingInner": 0, "paddingOuter": 0, "domain": ["CD4 T","CD14⁺ Mono","NK","B","CD8 T","CD34⁺","T/Mono doublets","CD16⁺ Mono","pDCs","NA (mouse)"]}, "axis": null},
"color": {"field": "m1", "type": "quantitative", "scale": {"domain": [0, 0.3, 0.6, 1], "range": ["#FFFDE6", "#FFFF00", "#FFA500", "#FF3D00"]},
"legend": {"title": "median", "orient": "left", "direction": "horizontal", "gradientLength": 34, "gradientThickness": 9, "values": [0, 1], "format": "d", "labelFontSize": 8, "titleFontSize": 9, "titleFontWeight": "normal", "titlePadding": 1, "titleAnchor": "middle", "offset": 5, "labelOffset": -9, "gradientStrokeWidth": 0, "encode": {"labels": {"update": {"align": {"signal": "datum.value === 0 ? 'right' : 'left'"}, "dx": {"signal": "datum.value === 0 ? -1 : 1"}}}}}}}}
], "spacing": 4, "resolve": {"scale": {"x": "independent", "y": "independent", "color": "independent"}, "legend": {"color": "independent"}}},
{"vconcat": [
{"data": {"name": "vA2"},
"facet": {"column": {"field": "c", "type": "nominal", "sort": ["CD4 T","CD14⁺ Mono","NK","B","CD8 T","CD34⁺","T/Mono doublets","CD16⁺ Mono","pDCs","NA (mouse)"], "header": null}},
"spacing": 0, "bounds": "flush", "resolve": {"scale": {"x": "independent"}},
"spec": {"width": 25, "height": 192,
"layer": [
{"transform": [{"filter": {"field": "w", "valid": true}}], "mark": {"type": "area", "orient": "horizontal", "opacity": 1},
"encoding": {"x": {"field": "w", "type": "quantitative", "stack": null, "impute": null, "scale": {"domain": [-1, 1], "nice": false, "zero": false}, "axis": null},
"y": {"field": "y", "type": "quantitative", "scale": {"domain": [-0.008, 1.05], "nice": false, "zero": false}, "axis": {"title": "(combination 172173)", "titleFont": "Lato", "titleFontSize": 16, "titleFontWeight": "normal", "titleColor": "black", "titlePadding": 15, "values": [0,0.25,0.5,0.75,1], "format": ".2f", "labelFont": "Liberation Sans", "labelFontSize": 9.5, "labelFontWeight": "bold", "labelColor": "#1a1a1a", "tickSize": 3, "tickWidth": 1.5, "tickColor": "#1a1a1a", "domainColor": "#1a1a1a", "domainWidth": 2, "grid": false, "zindex": 1, "labelPadding": 3}},
"color": {"field": "c", "type": "nominal", "scale": {"domain": ["CD4 T","CD14⁺ Mono","NK","B","CD8 T","CD34⁺","T/Mono doublets","CD16⁺ Mono","pDCs","NA (mouse)"], "range": ["#F8766D","#D39200","#93AA00","#00BA38","#00C19F","#00B9E3","#619CFF","#DB72FB","#FF61C3","#7F7F7F"]}, "legend": null}}},
{"transform": [{"filter": {"field": "w", "valid": true}}], "mark": {"type": "area", "orient": "horizontal", "opacity": 1},
"encoding": {"x": {"field": "w", "type": "quantitative", "stack": null, "impute": null, "scale": {"domain": [-1, 1], "nice": false, "zero": false, "reverse": true}, "axis": null},
"y": {"field": "y", "type": "quantitative"}, "color": {"field": "c", "type": "nominal", "legend": null}}},
{"transform": [{"filter": {"field": "w", "valid": true}}], "mark": {"type": "line", "color": "#2b2b2b", "strokeWidth": 1.3},
"encoding": {"x": {"field": "w", "type": "quantitative", "scale": {"domain": [-1, 1], "nice": false, "zero": false}, "axis": null}, "y": {"field": "y", "type": "quantitative"}, "order": {"field": "y", "type": "quantitative"}}},
{"transform": [{"filter": {"field": "w", "valid": true}}], "mark": {"type": "line", "color": "#2b2b2b", "strokeWidth": 1.3},
"encoding": {"x": {"field": "w", "type": "quantitative", "scale": {"domain": [-1, 1], "nice": false, "zero": false, "reverse": true}, "axis": null}, "y": {"field": "y", "type": "quantitative"}, "order": {"field": "y", "type": "quantitative"}}},
{"transform": [{"aggregate": [{"op": "count", "as": "n"}]}], "mark": {"type": "rule", "color": "#1a1a1a", "strokeWidth": 2}, "encoding": {"y": {"datum": -0.008}}},
{"transform": [{"aggregate": [{"op": "count", "as": "n"}]}], "mark": {"type": "rule", "color": "#1a1a1a", "strokeWidth": 1.5}, "encoding": {"x": {"datum": 0, "type": "quantitative", "scale": {"domain": [-1, 1]}, "axis": null}, "y": {"datum": -0.008}, "y2": {"datum": -0.025}}},
{"transform": [{"filter": {"field": "kind", "equal": "dot"}}], "mark": {"type": "circle", "size": 8, "color": "#2b2b2b", "opacity": 1},
"encoding": {"y": {"field": "y", "type": "quantitative"}}},
{"transform": [{"filter": {"field": "kind", "equal": "label"}}], "mark": {"type": "text", "font": "Lato", "fontSize": 17, "fontWeight": "bold", "align": "left", "baseline": "top", "dx": -4, "lineHeight": 19, "color": "black"},
"encoding": {"y": {"datum": 1.005}, "text": {"field": "t"}}},
{"transform": [{"filter": {"field": "kind", "equal": "ytitle"}}], "mark": {"type": "text", "font": "Lato", "fontSize": 17, "fontWeight": "bold", "align": "center", "baseline": "middle", "angle": 270, "dy": -78.5, "color": "black"},
"encoding": {"y": {"datum": 0.521}, "text": {"field": "t"}}}
],
"resolve": {"scale": {"x": "independent"}}}},
{"width": 250, "height": 17, "data": {"name": "sA"}, "mark": {"type": "rect", "stroke": "#A6A6A6", "strokeWidth": 1.5},
"encoding": {"x": {"field": "c", "type": "nominal", "scale": {"type": "band", "paddingInner": 0, "paddingOuter": 0, "domain": ["CD4 T","CD14⁺ Mono","NK","B","CD8 T","CD34⁺","T/Mono doublets","CD16⁺ Mono","pDCs","NA (mouse)"]}, "axis": {"title": null, "orient": "bottom", "labelAngle": -90, "ticks": false, "domain": false, "labelFont": "Liberation Sans", "labelFontSize": 11, "labelFontWeight": "bold", "labelColor": "black", "labelPadding": 4, "labelLimit": 200}},
"color": {"field": "m2", "type": "quantitative", "scale": {"domain": [0, 0.3, 0.6, 1], "range": ["#FFFDE6", "#FFFF00", "#FFA500", "#FF3D00"]},
"legend": {"title": "median", "orient": "left", "direction": "horizontal", "gradientLength": 34, "gradientThickness": 9, "values": [0, 1], "format": "d", "labelFontSize": 8, "titleFontSize": 9, "titleFontWeight": "normal", "titlePadding": 1, "titleAnchor": "middle", "offset": 5, "labelOffset": -9, "gradientStrokeWidth": 0, "encode": {"labels": {"update": {"align": {"signal": "datum.value === 0 ? 'right' : 'left'"}, "dx": {"signal": "datum.value === 0 ? -1 : 1"}}}}}}}}
], "spacing": 4, "resolve": {"scale": {"x": "independent", "y": "independent", "color": "independent"}, "legend": {"color": "independent"}}}
],
"spacing": 14,
"resolve": {"scale": {"x": "independent", "y": "independent", "color": "independent"}, "legend": {"color": "independent"}}
},
{
"title": {"text": "B", "anchor": "start", "frame": "bounds", "font": "Liberation Sans", "fontSize": 31, "fontWeight": "bold", "color": "black", "dx": 3, "offset": -6},
"vconcat": [
{"vconcat": [
{"data": {"name": "vB1"},
"facet": {"column": {"field": "c", "type": "nominal", "sort": ["Naive CD4 T","Memory CD4 T","CD14⁺ Mono","B","CD8 T","FCGR3A⁺ Mono","NK","DC","Platelet"], "header": null}},
"spacing": 0, "bounds": "flush", "resolve": {"scale": {"x": "independent"}},
"spec": {"width": 28, "height": 194,
"layer": [
{"transform": [{"filter": {"field": "w", "valid": true}}], "mark": {"type": "area", "orient": "horizontal", "opacity": 1},
"encoding": {"x": {"field": "w", "type": "quantitative", "stack": null, "impute": null, "scale": {"domain": [-1, 1], "nice": false, "zero": false}, "axis": null},
"y": {"field": "y", "type": "quantitative", "scale": {"domain": [-0.008, 1.05], "nice": false, "zero": false}, "axis": {"title": "(full NK signature)", "titleFont": "Lato", "titleFontSize": 16, "titleFontWeight": "normal", "titleColor": "black", "titlePadding": 15, "values": [0,0.25,0.5,0.75,1], "format": ".2f", "labelFont": "Liberation Sans", "labelFontSize": 9.5, "labelFontWeight": "bold", "labelColor": "#1a1a1a", "tickSize": 3, "tickWidth": 1.5, "tickColor": "#1a1a1a", "domainColor": "#1a1a1a", "domainWidth": 2, "grid": false, "zindex": 1, "labelPadding": 3}},
"color": {"field": "c", "type": "nominal", "scale": {"domain": ["Naive CD4 T","Memory CD4 T","CD14⁺ Mono","B","CD8 T","FCGR3A⁺ Mono","NK","DC","Platelet"], "range": ["#F8766D","#D39200","#93AA00","#00BA38","#00C19F","#00B9E3","#619CFF","#DB72FB","#FF61C3"]}, "legend": null}}},
{"transform": [{"filter": {"field": "w", "valid": true}}], "mark": {"type": "area", "orient": "horizontal", "opacity": 1},
"encoding": {"x": {"field": "w", "type": "quantitative", "stack": null, "impute": null, "scale": {"domain": [-1, 1], "nice": false, "zero": false, "reverse": true}, "axis": null},
"y": {"field": "y", "type": "quantitative"}, "color": {"field": "c", "type": "nominal", "legend": null}}},
{"transform": [{"filter": {"field": "w", "valid": true}}], "mark": {"type": "line", "color": "#2b2b2b", "strokeWidth": 1.3},
"encoding": {"x": {"field": "w", "type": "quantitative", "scale": {"domain": [-1, 1], "nice": false, "zero": false}, "axis": null}, "y": {"field": "y", "type": "quantitative"}, "order": {"field": "y", "type": "quantitative"}}},
{"transform": [{"filter": {"field": "w", "valid": true}}], "mark": {"type": "line", "color": "#2b2b2b", "strokeWidth": 1.3},
"encoding": {"x": {"field": "w", "type": "quantitative", "scale": {"domain": [-1, 1], "nice": false, "zero": false, "reverse": true}, "axis": null}, "y": {"field": "y", "type": "quantitative"}, "order": {"field": "y", "type": "quantitative"}}},
{"transform": [{"aggregate": [{"op": "count", "as": "n"}]}], "mark": {"type": "rule", "color": "#1a1a1a", "strokeWidth": 2}, "encoding": {"y": {"datum": -0.008}}},
{"transform": [{"aggregate": [{"op": "count", "as": "n"}]}], "mark": {"type": "rule", "color": "#1a1a1a", "strokeWidth": 1.5}, "encoding": {"x": {"datum": 0, "type": "quantitative", "scale": {"domain": [-1, 1]}, "axis": null}, "y": {"datum": -0.008}, "y2": {"datum": -0.025}}},
{"transform": [{"filter": {"field": "kind", "equal": "label"}}], "mark": {"type": "text", "font": "Lato", "fontSize": 17, "fontWeight": "bold", "align": "left", "baseline": "middle", "dx": 10, "color": "black"},
"encoding": {"y": {"datum": 0.99}, "text": {"field": "t"}}},
{"transform": [{"filter": {"field": "kind", "equal": "ytitle"}}], "mark": {"type": "text", "font": "Lato", "fontSize": 17, "fontWeight": "bold", "align": "center", "baseline": "middle", "angle": 270, "dy": -81, "color": "black"},
"encoding": {"y": {"datum": 0.521}, "text": {"field": "t"}}}
],
"resolve": {"scale": {"x": "independent"}}}},
{"width": 252, "height": 16, "data": {"name": "sB"}, "mark": {"type": "rect", "stroke": "#A6A6A6", "strokeWidth": 1.5},
"encoding": {"x": {"field": "c", "type": "nominal", "scale": {"type": "band", "paddingInner": 0, "paddingOuter": 0, "domain": ["Naive CD4 T","Memory CD4 T","CD14⁺ Mono","B","CD8 T","FCGR3A⁺ Mono","NK","DC","Platelet"]}, "axis": null},
"color": {"field": "m1", "type": "quantitative", "scale": {"domain": [0, 0.3, 0.6, 1], "range": ["#FFFDE6", "#FFFF00", "#FFA500", "#FF3D00"]},
"legend": {"title": "median", "orient": "left", "direction": "horizontal", "gradientLength": 34, "gradientThickness": 9, "values": [0, 1], "format": "d", "labelFontSize": 8, "titleFontSize": 9, "titleFontWeight": "normal", "titlePadding": 1, "titleAnchor": "middle", "offset": 5, "labelOffset": -9, "gradientStrokeWidth": 0, "encode": {"labels": {"update": {"align": {"signal": "datum.value === 0 ? 'right' : 'left'"}, "dx": {"signal": "datum.value === 0 ? -1 : 1"}}}}}}}}
], "spacing": 4, "resolve": {"scale": {"x": "independent", "y": "independent", "color": "independent"}, "legend": {"color": "independent"}}},
{"vconcat": [
{"data": {"name": "vB2"},
"facet": {"column": {"field": "c", "type": "nominal", "sort": ["Naive CD4 T","Memory CD4 T","CD14⁺ Mono","B","CD8 T","FCGR3A⁺ Mono","NK","DC","Platelet"], "header": null}},
"spacing": 0, "bounds": "flush", "resolve": {"scale": {"x": "independent"}},
"spec": {"width": 28, "height": 194,
"layer": [
{"transform": [{"filter": {"field": "w", "valid": true}}], "mark": {"type": "area", "orient": "horizontal", "opacity": 1},
"encoding": {"x": {"field": "w", "type": "quantitative", "stack": null, "impute": null, "scale": {"domain": [-1, 1], "nice": false, "zero": false}, "axis": null},
"y": {"field": "y", "type": "quantitative", "scale": {"domain": [-0.008, 1.05], "nice": false, "zero": false}, "axis": {"title": "(combination 137550)", "titleFont": "Lato", "titleFontSize": 16, "titleFontWeight": "normal", "titleColor": "black", "titlePadding": 15, "values": [0,0.25,0.5,0.75,1], "format": ".2f", "labelFont": "Liberation Sans", "labelFontSize": 9.5, "labelFontWeight": "bold", "labelColor": "#1a1a1a", "tickSize": 3, "tickWidth": 1.5, "tickColor": "#1a1a1a", "domainColor": "#1a1a1a", "domainWidth": 2, "grid": false, "zindex": 1, "labelPadding": 3}},
"color": {"field": "c", "type": "nominal", "scale": {"domain": ["Naive CD4 T","Memory CD4 T","CD14⁺ Mono","B","CD8 T","FCGR3A⁺ Mono","NK","DC","Platelet"], "range": ["#F8766D","#D39200","#93AA00","#00BA38","#00C19F","#00B9E3","#619CFF","#DB72FB","#FF61C3"]}, "legend": null}}},
{"transform": [{"filter": {"field": "w", "valid": true}}], "mark": {"type": "area", "orient": "horizontal", "opacity": 1},
"encoding": {"x": {"field": "w", "type": "quantitative", "stack": null, "impute": null, "scale": {"domain": [-1, 1], "nice": false, "zero": false, "reverse": true}, "axis": null},
"y": {"field": "y", "type": "quantitative"}, "color": {"field": "c", "type": "nominal", "legend": null}}},
{"transform": [{"filter": {"field": "w", "valid": true}}], "mark": {"type": "line", "color": "#2b2b2b", "strokeWidth": 1.3},
"encoding": {"x": {"field": "w", "type": "quantitative", "scale": {"domain": [-1, 1], "nice": false, "zero": false}, "axis": null}, "y": {"field": "y", "type": "quantitative"}, "order": {"field": "y", "type": "quantitative"}}},
{"transform": [{"filter": {"field": "w", "valid": true}}], "mark": {"type": "line", "color": "#2b2b2b", "strokeWidth": 1.3},
"encoding": {"x": {"field": "w", "type": "quantitative", "scale": {"domain": [-1, 1], "nice": false, "zero": false, "reverse": true}, "axis": null}, "y": {"field": "y", "type": "quantitative"}, "order": {"field": "y", "type": "quantitative"}}},
{"transform": [{"aggregate": [{"op": "count", "as": "n"}]}], "mark": {"type": "rule", "color": "#1a1a1a", "strokeWidth": 2}, "encoding": {"y": {"datum": -0.008}}},
{"transform": [{"aggregate": [{"op": "count", "as": "n"}]}], "mark": {"type": "rule", "color": "#1a1a1a", "strokeWidth": 1.5}, "encoding": {"x": {"datum": 0, "type": "quantitative", "scale": {"domain": [-1, 1]}, "axis": null}, "y": {"datum": -0.008}, "y2": {"datum": -0.025}}},
{"transform": [{"filter": {"field": "kind", "equal": "dot"}}], "mark": {"type": "circle", "size": 8, "color": "#2b2b2b", "opacity": 1},
"encoding": {"y": {"field": "y", "type": "quantitative"}}},
{"transform": [{"filter": {"field": "kind", "equal": "label"}}], "mark": {"type": "text", "font": "Lato", "fontSize": 17, "fontWeight": "bold", "align": "left", "baseline": "top", "dx": 10, "lineHeight": 19, "color": "black"},
"encoding": {"y": {"datum": 1.02}, "text": {"field": "t"}}},
{"transform": [{"filter": {"field": "kind", "equal": "ytitle"}}], "mark": {"type": "text", "font": "Lato", "fontSize": 17, "fontWeight": "bold", "align": "center", "baseline": "middle", "angle": 270, "dy": -81, "color": "black"},
"encoding": {"y": {"datum": 0.521}, "text": {"field": "t"}}}
],
"resolve": {"scale": {"x": "independent"}}}},
{"width": 252, "height": 17, "data": {"name": "sB"}, "mark": {"type": "rect", "stroke": "#A6A6A6", "strokeWidth": 1.5},
"encoding": {"x": {"field": "c", "type": "nominal", "scale": {"type": "band", "paddingInner": 0, "paddingOuter": 0, "domain": ["Naive CD4 T","Memory CD4 T","CD14⁺ Mono","B","CD8 T","FCGR3A⁺ Mono","NK","DC","Platelet"]}, "axis": {"title": null, "orient": "bottom", "labelAngle": -90, "ticks": false, "domain": false, "labelFont": "Liberation Sans", "labelFontSize": 11, "labelFontWeight": "bold", "labelColor": "black", "labelPadding": 4, "labelLimit": 200}},
"color": {"field": "m2", "type": "quantitative", "scale": {"domain": [0, 0.3, 0.6, 1], "range": ["#FFFDE6", "#FFFF00", "#FFA500", "#FF3D00"]},
"legend": {"title": "median", "orient": "left", "direction": "horizontal", "gradientLength": 34, "gradientThickness": 9, "values": [0, 1], "format": "d", "labelFontSize": 8, "titleFontSize": 9, "titleFontWeight": "normal", "titlePadding": 1, "titleAnchor": "middle", "offset": 5, "labelOffset": -9, "gradientStrokeWidth": 0, "encode": {"labels": {"update": {"align": {"signal": "datum.value === 0 ? 'right' : 'left'"}, "dx": {"signal": "datum.value === 0 ? -1 : 1"}}}}}}}}
], "spacing": 4, "resolve": {"scale": {"x": "independent", "y": "independent", "color": "independent"}, "legend": {"color": "independent"}}}
],
"spacing": 12,
"resolve": {"scale": {"x": "independent", "y": "independent", "color": "independent"}, "legend": {"color": "independent"}}
}
],
"spacing": 63,
"resolve": {"scale": {"x": "independent", "y": "independent", "color": "independent"}, "legend": {"color": "independent"}}
},
{
"title": {"text": "C", "anchor": "start", "frame": "bounds", "font": "Liberation Sans", "fontSize": 28, "fontWeight": "bold", "color": "black", "dx": -17, "offset": -2},
"vconcat": [
{"vconcat": [
{"data": {"name": "vC1"},
"transform": [{"lookup": "c", "from": {"data": {"name": "catsC"}, "key": "c", "fields": ["i"]}}],
"facet": {"column": {"field": "c", "type": "nominal", "sort": ["ASDC","B exhausted","B immature","B Naive","B non-switched memory","B switched memory","C1/CD16 mono","CD14 mono","CD16 mono","CD4-CM","CD4-EM","CD4-IL22","CD4 Naive","CD4 Prolif.","CD4-Tfh","CD4-Th1","CD4-Th17","CD4-Th2","CD8-EM","CD8 Naive","CD8- Prolif.","CD8-TE","CD83/CD14 mono","CD8 Prolif.","DC1","DC2","DC3","gdT","HSC CD38neg","HSC CD38pos","HSC erythroid","HSC myeloid","HSC prolif.","ILC1_3","ILC2","MAIT","Mono prolif.","NK 16hi","NK 56hi","NK prolif.","NKT","pDC","Plasma cell IgA","Plasma cell IgG","Plasma cell IgM","Plasmablast","Platelets","RBC","Treg"], "header": null}},
"spacing": 0, "bounds": "flush", "resolve": {"scale": {"x": "independent"}},
"spec": {"width": 13, "height": 194,
"layer": [
{"transform": [{"filter": {"field": "w", "valid": true}}], "mark": {"type": "area", "orient": "horizontal", "opacity": 1},
"encoding": {"x": {"field": "w", "type": "quantitative", "stack": null, "impute": null, "scale": {"domain": [-1, 1], "nice": false, "zero": false}, "axis": null},
"y": {"field": "y", "type": "quantitative", "scale": {"domain": [-0.006, 1.053], "nice": false, "zero": false}, "axis": {"title": "(full NK signature)", "titleFont": "Lato", "titleFontSize": 16, "titleFontWeight": "normal", "titleColor": "black", "titlePadding": 18, "values": [0,0.25,0.5,0.75,1], "format": ".2f", "labelFont": "Liberation Sans", "labelFontSize": 9.5, "labelFontWeight": "bold", "labelColor": "#1a1a1a", "tickSize": 3, "tickWidth": 1.5, "tickColor": "#1a1a1a", "domainColor": "#1a1a1a", "domainWidth": 2, "grid": false, "zindex": 1, "labelPadding": 8}},
"color": {"field": "i", "type": "quantitative", "scale": {"domain": [0,4.083,8.167,12.25,16.333,20.417,24.5,28.583,32.667,36.75,40.833,44.917,49], "range": ["#F8766D","#DE8C00","#B79F00","#7CAE00","#00BA38","#00C08B","#00BFC4","#00B4F0","#619CFF","#C77CFF","#F564E3","#FF64B0","#F8766D"], "interpolate": "hcl"}, "legend": null}}},
{"transform": [{"filter": {"field": "w", "valid": true}}], "mark": {"type": "area", "orient": "horizontal", "opacity": 1},
"encoding": {"x": {"field": "w", "type": "quantitative", "stack": null, "impute": null, "scale": {"domain": [-1, 1], "nice": false, "zero": false, "reverse": true}, "axis": null},
"y": {"field": "y", "type": "quantitative"}, "color": {"field": "i", "type": "quantitative", "legend": null}}},
{"transform": [{"filter": {"field": "w", "valid": true}}], "mark": {"type": "line", "color": "#2b2b2b", "strokeWidth": 1.2},
"encoding": {"x": {"field": "w", "type": "quantitative", "scale": {"domain": [-1, 1], "nice": false, "zero": false}, "axis": null}, "y": {"field": "y", "type": "quantitative"}, "order": {"field": "y", "type": "quantitative"}}},
{"transform": [{"filter": {"field": "w", "valid": true}}], "mark": {"type": "line", "color": "#2b2b2b", "strokeWidth": 1.2},
"encoding": {"x": {"field": "w", "type": "quantitative", "scale": {"domain": [-1, 1], "nice": false, "zero": false, "reverse": true}, "axis": null}, "y": {"field": "y", "type": "quantitative"}, "order": {"field": "y", "type": "quantitative"}}},
{"transform": [{"aggregate": [{"op": "count", "as": "n"}]}], "mark": {"type": "rule", "color": "#1a1a1a", "strokeWidth": 2}, "encoding": {"y": {"datum": -0.006}}},
{"transform": [{"aggregate": [{"op": "count", "as": "n"}]}], "mark": {"type": "rule", "color": "#1a1a1a", "strokeWidth": 1.5}, "encoding": {"x": {"datum": 0, "type": "quantitative", "scale": {"domain": [-1, 1]}, "axis": null}, "y": {"datum": -0.006}, "y2": {"datum": -0.023}}},
{"transform": [{"filter": {"field": "kind", "equal": "label"}}], "mark": {"type": "text", "font": "Lato", "fontSize": 17, "fontWeight": "bold", "align": "left", "baseline": "middle", "dx": 5, "color": "black"},
"encoding": {"y": {"datum": 0.986}, "text": {"field": "t"}}},
{"transform": [{"filter": {"field": "kind", "equal": "ytitle"}}], "mark": {"type": "text", "font": "Lato", "fontSize": 17, "fontWeight": "bold", "align": "center", "baseline": "middle", "angle": 270, "dy": -75.7, "color": "black"},
"encoding": {"y": {"datum": 0.5235}, "text": {"field": "t"}}}
],
"resolve": {"scale": {"x": "independent"}}}},
{"width": 637, "height": 17, "data": {"name": "catsC"}, "mark": {"type": "rect", "stroke": "#A6A6A6", "strokeWidth": 1.5},
"encoding": {"x": {"field": "c", "type": "nominal", "scale": {"type": "band", "paddingInner": 0, "paddingOuter": 0, "domain": ["ASDC","B exhausted","B immature","B Naive","B non-switched memory","B switched memory","C1/CD16 mono","CD14 mono","CD16 mono","CD4-CM","CD4-EM","CD4-IL22","CD4 Naive","CD4 Prolif.","CD4-Tfh","CD4-Th1","CD4-Th17","CD4-Th2","CD8-EM","CD8 Naive","CD8- Prolif.","CD8-TE","CD83/CD14 mono","CD8 Prolif.","DC1","DC2","DC3","gdT","HSC CD38neg","HSC CD38pos","HSC erythroid","HSC myeloid","HSC prolif.","ILC1_3","ILC2","MAIT","Mono prolif.","NK 16hi","NK 56hi","NK prolif.","NKT","pDC","Plasma cell IgA","Plasma cell IgG","Plasma cell IgM","Plasmablast","Platelets","RBC","Treg"]}, "axis": null},
"color": {"field": "m1", "type": "quantitative", "scale": {"domain": [0, 0.3, 0.6, 1], "range": ["#FFFDE6", "#FFFF00", "#FFA500", "#FF3D00"]},
"legend": {"title": "median", "orient": "left", "direction": "horizontal", "gradientLength": 34, "gradientThickness": 9, "values": [0, 1], "format": "d", "labelFontSize": 8, "titleFontSize": 9, "titleFontWeight": "normal", "titlePadding": 1, "titleAnchor": "middle", "offset": 5, "labelOffset": -9, "gradientStrokeWidth": 0, "encode": {"labels": {"update": {"align": {"signal": "datum.value === 0 ? 'right' : 'left'"}, "dx": {"signal": "datum.value === 0 ? -1 : 1"}}}}}}}}
], "spacing": 4, "resolve": {"scale": {"x": "independent", "y": "independent", "color": "independent"}, "legend": {"color": "independent"}}},
{"vconcat": [
{"data": {"name": "vC2"},
"transform": [{"lookup": "c", "from": {"data": {"name": "catsC"}, "key": "c", "fields": ["i"]}}],
"facet": {"column": {"field": "c", "type": "nominal", "sort": ["ASDC","B exhausted","B immature","B Naive","B non-switched memory","B switched memory","C1/CD16 mono","CD14 mono","CD16 mono","CD4-CM","CD4-EM","CD4-IL22","CD4 Naive","CD4 Prolif.","CD4-Tfh","CD4-Th1","CD4-Th17","CD4-Th2","CD8-EM","CD8 Naive","CD8- Prolif.","CD8-TE","CD83/CD14 mono","CD8 Prolif.","DC1","DC2","DC3","gdT","HSC CD38neg","HSC CD38pos","HSC erythroid","HSC myeloid","HSC prolif.","ILC1_3","ILC2","MAIT","Mono prolif.","NK 16hi","NK 56hi","NK prolif.","NKT","pDC","Plasma cell IgA","Plasma cell IgG","Plasma cell IgM","Plasmablast","Platelets","RBC","Treg"], "header": null}},
"spacing": 0, "bounds": "flush", "resolve": {"scale": {"x": "independent"}},
"spec": {"width": 13, "height": 194,
"layer": [
{"transform": [{"filter": {"field": "w", "valid": true}}], "mark": {"type": "area", "orient": "horizontal", "opacity": 1},
"encoding": {"x": {"field": "w", "type": "quantitative", "stack": null, "impute": null, "scale": {"domain": [-1, 1], "nice": false, "zero": false}, "axis": null},
"y": {"field": "y", "type": "quantitative", "scale": {"domain": [-0.006, 1.053], "nice": false, "zero": false}, "axis": {"title": "(specific combination)", "titleFont": "Lato", "titleFontSize": 16, "titleFontWeight": "normal", "titleColor": "black", "titlePadding": 18, "values": [0,0.25,0.5,0.75,1], "format": ".2f", "labelFont": "Liberation Sans", "labelFontSize": 9.5, "labelFontWeight": "bold", "labelColor": "#1a1a1a", "tickSize": 3, "tickWidth": 1.5, "tickColor": "#1a1a1a", "domainColor": "#1a1a1a", "domainWidth": 2, "grid": false, "zindex": 1, "labelPadding": 8}},
"color": {"field": "i", "type": "quantitative", "scale": {"domain": [0,4.083,8.167,12.25,16.333,20.417,24.5,28.583,32.667,36.75,40.833,44.917,49], "range": ["#F8766D","#DE8C00","#B79F00","#7CAE00","#00BA38","#00C08B","#00BFC4","#00B4F0","#619CFF","#C77CFF","#F564E3","#FF64B0","#F8766D"], "interpolate": "hcl"}, "legend": null}}},
{"transform": [{"filter": {"field": "w", "valid": true}}], "mark": {"type": "area", "orient": "horizontal", "opacity": 1},
"encoding": {"x": {"field": "w", "type": "quantitative", "stack": null, "impute": null, "scale": {"domain": [-1, 1], "nice": false, "zero": false, "reverse": true}, "axis": null},
"y": {"field": "y", "type": "quantitative"}, "color": {"field": "i", "type": "quantitative", "legend": null}}},
{"transform": [{"filter": {"field": "w", "valid": true}}], "mark": {"type": "line", "color": "#2b2b2b", "strokeWidth": 1.2},
"encoding": {"x": {"field": "w", "type": "quantitative", "scale": {"domain": [-1, 1], "nice": false, "zero": false}, "axis": null}, "y": {"field": "y", "type": "quantitative"}, "order": {"field": "y", "type": "quantitative"}}},
{"transform": [{"filter": {"field": "w", "valid": true}}], "mark": {"type": "line", "color": "#2b2b2b", "strokeWidth": 1.2},
"encoding": {"x": {"field": "w", "type": "quantitative", "scale": {"domain": [-1, 1], "nice": false, "zero": false, "reverse": true}, "axis": null}, "y": {"field": "y", "type": "quantitative"}, "order": {"field": "y", "type": "quantitative"}}},
{"transform": [{"aggregate": [{"op": "count", "as": "n"}]}], "mark": {"type": "rule", "color": "#1a1a1a", "strokeWidth": 2}, "encoding": {"y": {"datum": -0.006}}},
{"transform": [{"aggregate": [{"op": "count", "as": "n"}]}], "mark": {"type": "rule", "color": "#1a1a1a", "strokeWidth": 1.5}, "encoding": {"x": {"datum": 0, "type": "quantitative", "scale": {"domain": [-1, 1]}, "axis": null}, "y": {"datum": -0.006}, "y2": {"datum": -0.023}}},
{"transform": [{"filter": {"field": "kind", "equal": "label"}}], "mark": {"type": "text", "font": "Lato", "fontSize": 17, "fontWeight": "bold", "align": "left", "baseline": "middle", "dx": 1, "color": "black"},
"encoding": {"y": {"datum": 0.951}, "text": {"field": "t"}}},
{"transform": [{"filter": {"field": "kind", "equal": "ytitle"}}], "mark": {"type": "text", "font": "Lato", "fontSize": 17, "fontWeight": "bold", "align": "center", "baseline": "middle", "angle": 270, "dy": -75.7, "color": "black"},
"encoding": {"y": {"datum": 0.5235}, "text": {"field": "t"}}}
],
"resolve": {"scale": {"x": "independent"}}}},
{"width": 637, "height": 17, "data": {"name": "catsC"}, "mark": {"type": "rect", "stroke": "#A6A6A6", "strokeWidth": 1.5},
"encoding": {"x": {"field": "c", "type": "nominal", "scale": {"type": "band", "paddingInner": 0, "paddingOuter": 0, "domain": ["ASDC","B exhausted","B immature","B Naive","B non-switched memory","B switched memory","C1/CD16 mono","CD14 mono","CD16 mono","CD4-CM","CD4-EM","CD4-IL22","CD4 Naive","CD4 Prolif.","CD4-Tfh","CD4-Th1","CD4-Th17","CD4-Th2","CD8-EM","CD8 Naive","CD8- Prolif.","CD8-TE","CD83/CD14 mono","CD8 Prolif.","DC1","DC2","DC3","gdT","HSC CD38neg","HSC CD38pos","HSC erythroid","HSC myeloid","HSC prolif.","ILC1_3","ILC2","MAIT","Mono prolif.","NK 16hi","NK 56hi","NK prolif.","NKT","pDC","Plasma cell IgA","Plasma cell IgG","Plasma cell IgM","Plasmablast","Platelets","RBC","Treg"]}, "axis": {"title": null, "orient": "bottom", "labelAngle": -90, "ticks": false, "domain": false, "labelFont": "Liberation Sans", "labelFontSize": 9, "labelFontWeight": {"condition": {"test": "indexof(['ILC1_3','NK 16hi','NK 56hi','NK prolif.'], datum.value) >= 0", "value": "bold"}, "value": "normal"}, "labelColor": "black", "labelPadding": 4, "labelLimit": 200}},
"color": {"field": "m2", "type": "quantitative", "scale": {"domain": [0, 0.3, 0.6, 1], "range": ["#FFFDE6", "#FFFF00", "#FFA500", "#FF3D00"]},
"legend": {"title": "median", "orient": "left", "direction": "horizontal", "gradientLength": 34, "gradientThickness": 9, "values": [0, 1], "format": "d", "labelFontSize": 8, "titleFontSize": 9, "titleFontWeight": "normal", "titlePadding": 1, "titleAnchor": "middle", "offset": 5, "labelOffset": -9, "gradientStrokeWidth": 0, "encode": {"labels": {"update": {"align": {"signal": "datum.value === 0 ? 'right' : 'left'"}, "dx": {"signal": "datum.value === 0 ? -1 : 1"}}}}}}}}
], "spacing": 4, "resolve": {"scale": {"x": "independent", "y": "independent", "color": "independent"}, "legend": {"color": "independent"}}}
],
"spacing": 8,
"resolve": {"scale": {"x": "independent", "y": "independent", "color": "independent"}, "legend": {"color": "independent"}}
}
],
"spacing": 26,
"resolve": {"scale": {"x": "independent", "y": "independent", "color": "independent"}, "legend": {"color": "independent"}}
}
